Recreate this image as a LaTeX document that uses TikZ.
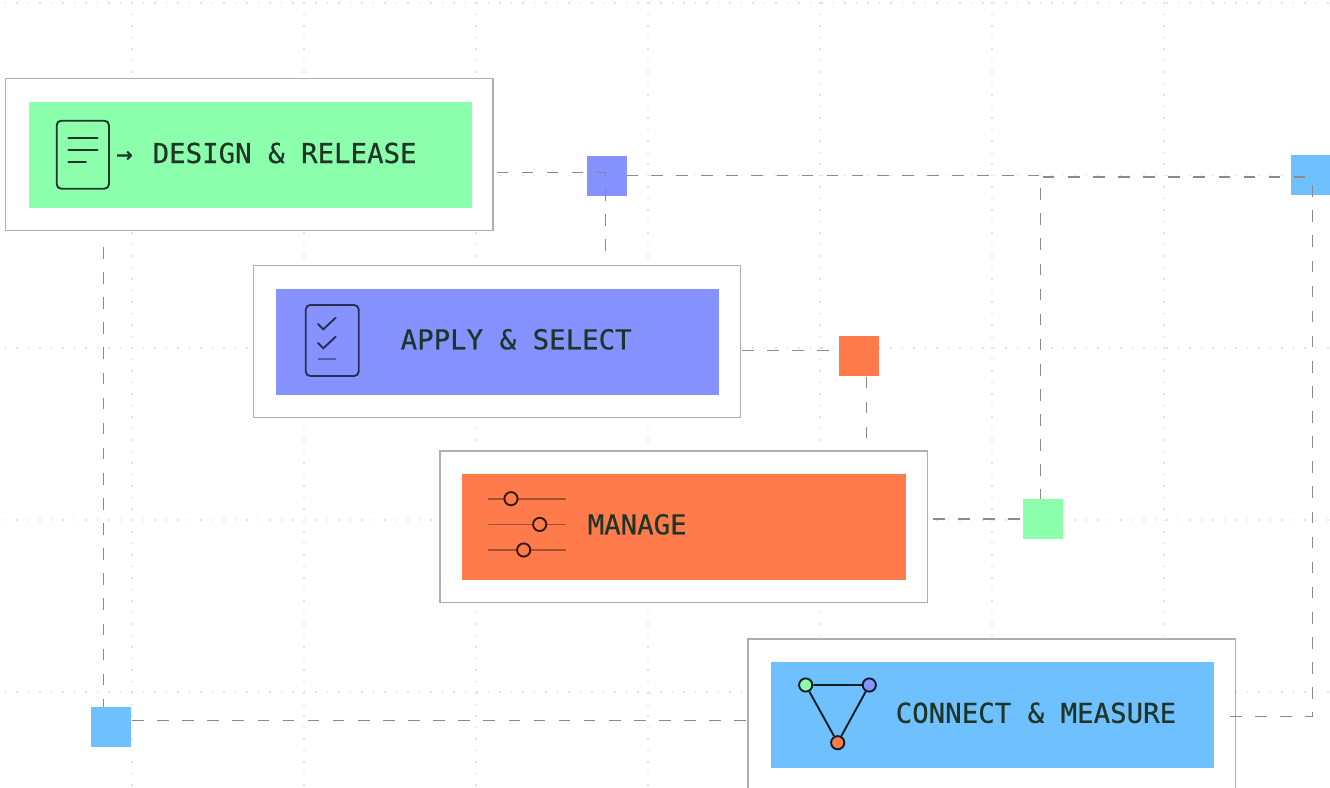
\documentclass[tikz,border=0pt]{standalone}
\usepackage{fontspec}
\newfontfamily\labelfont[FakeBold=0.5]{DejaVu Sans Mono}
\definecolor{cgreen}{HTML}{8CFFAD}
\definecolor{cviolet}{HTML}{8592FF}
\definecolor{corange}{HTML}{FF7B4B}
\definecolor{cblue}{HTML}{6EC0FF}
\definecolor{ctext}{HTML}{1E3528}
\definecolor{cframe}{HTML}{AEAEAE}
\definecolor{cdash}{HTML}{8A8A8A}
\definecolor{cgrid}{HTML}{E2E2E2}
\tikzset{
  x=1pt,y=-1pt,
  gridline/.style={draw=cgrid,line width=1.6pt,dash pattern=on 1.6pt off 9.9pt},
  frame/.style={draw=cframe,line width=1.3pt,fill=white,rectangle,inner sep=0pt,minimum width=487.5pt,minimum height=151.6pt},
  panel/.style={fill=#1,rectangle,inner sep=0pt,minimum width=443.5pt,minimum height=106pt},
  sq/.style={fill=#1,rectangle,inner sep=0pt,minimum size=40pt},
  link/.style={draw=cdash,line width=1.3pt,dash pattern=on 11.6pt off 13.5pt},
  label/.style={anchor=base west,inner sep=0pt,text=ctext,font=\fontsize{27.4}{30}\selectfont\labelfont},
  icon/.style={draw=ctext,line width=1.9pt,line cap=round},
  knob/.style={circle,draw=#1,line width=1.9pt,inner sep=0pt,minimum size=13.2pt},
}
\begin{document}
\begin{tikzpicture}
\useasboundingbox (0,0) rectangle (1330,787);
\clip (0,0) rectangle (1330,787);
% dotted background grid
\foreach \yy in {2.8,175.3,347.7,519.7,691.7}
  \draw[gridline] (4.5,\yy) -- (1330,\yy);
\foreach \xx in {132,304,476,648,820,992,1164}
  \draw[gridline] (\xx,2.2) -- (\xx,787);

% frames and panels
\node[frame] (f1) at (249.2,154.5) {};
\node[frame] (f2) at (497,341.4) {};
\node[frame] (f3) at (683.7,526.7) {};
\node[frame] (f4) at (991.7,714.7) {};
\node[panel=cgreen] (p1) at (250.5,155) {};
\node[panel=cviolet] (p2) at (497.5,342) {};
\node[panel=corange] (p3) at (684,527) {};
\node[panel=cblue] (p4) at (992.5,715) {};

% squares that the dashes run over
\node[sq=cviolet] (s1) at (607,176) {};
\node[sq=cblue] (s2) at (1311,175) {};

% connectors
\coordinate (a0) at (496.5,172.5);
\coordinate (a1) at (605.5,172.5);
\coordinate (a2) at (605.5,250.5);
\draw[link] (a0) -- (a1) -- (a2);
\coordinate (b1) at (1039,175.4);
\draw[link,dash phase=1.3pt] (s1.east |- b1) -- (b1);
\coordinate (c0) at (933,519);
\coordinate (c1) at (1040.5,519);
\coordinate (c2) at (1040.5,177);
\coordinate (c3) at (1306,177);
\draw[link] (c0) -- (c1) -- (c2) -- (c3);
\coordinate (d0) at (742,350.3);
\coordinate (d1) at (866.3,350.3);
\coordinate (d2) at (866.3,438.5);
\draw[link] (d0) -- (d1) -- (d2);
\coordinate (e0) at (103.7,247);
\coordinate (e1) at (103.7,720.7);
\draw[link] (e0) -- (e1) -- (f4.west |- e1);
\coordinate (g0) at (1230,716.7);
\coordinate (g1) at (1312.5,716.7);
\coordinate (g2) at (1312.5,185);
\draw[link] (g0) -- (g1) -- (g2);

% squares that cover their connectors
\node[sq=corange] (s3) at (859,356) {};
\node[sq=cgreen] (s4) at (1043,519) {};
\node[sq=cblue] (s5) at (111,727) {};

% labels
\node[label] (t1) at (116,163) {→\kern3.5pt\ DESIGN \& RELEASE};
\node[label] (t2) at (400.5,349.3) {APPLY \& SELECT};
\node[label] (t3) at (587.5,534.3) {MANAGE};
\node[label] (t4) at (895.5,722.8) {CONNECT \& MEASURE};

% document icon
\draw[icon,rounded corners=4.5pt] (56.7,120.7) rectangle (109,188.7);
\draw[icon] (68.3,138.3) -- (97.7,138.3) (68.3,150.3) -- (97.7,150.3) (68.3,162.3) -- (86,162.3);

% checklist icon
\begin{scope}[icon,draw=black!55!cviolet!70!black]
\draw[rounded corners=4.5pt] (305.7,305) rectangle (358.7,376);
\draw (318,324) -- (323.3,329.3) -- (335.7,317.7);
\draw (318,343) -- (323.3,348.3) -- (335.7,336.7);
\end{scope}
\draw[line width=1.7pt,draw=black!35!cviolet] (318,359) -- (335.7,359);

% slider icon
\draw[line width=1.7pt,draw=black!35!corange] (488,498.7) -- (566,498.7) (488,524.4) -- (566,524.4) (488,550) -- (566,550);
\node[knob=black!80!corange,fill=corange] (k1) at (511,498.7) {};
\node[knob=black!80!corange,fill=corange] (k2) at (539.7,524.4) {};
\node[knob=black!80!corange,fill=corange] (k3) at (523.7,550) {};

% network icon
\node[knob=black!85!cblue,fill=cgreen] (n1) at (805.7,685) {};
\node[knob=black!85!cblue,fill=cviolet] (n2) at (869.3,685) {};
\node[knob=black!85!cblue,fill=corange] (n3) at (837.7,742.7) {};
\draw[line width=1.9pt,draw=black!85!cblue] (n1) -- (n2) (n2) -- (n3) (n3) -- (n1);
\end{tikzpicture}
\end{document}
